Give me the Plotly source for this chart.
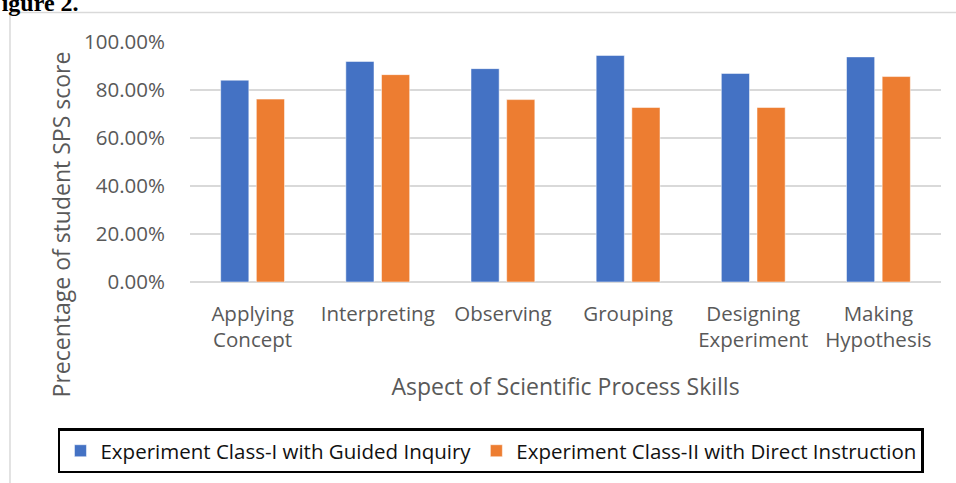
import plotly.graph_objects as go

categories = ["Applying<br>Concept", "Interpreting", "Observing", "Grouping",
              "Designing<br>Experiment", "Making<br>Hypothesis"]
guided_inquiry = [0.841, 0.919, 0.889, 0.944, 0.869, 0.938]
direct_instruction = [0.762, 0.864, 0.760, 0.727, 0.727, 0.856]
y_ticks = [0, 0.2, 0.4, 0.6, 0.8, 1.0]
y_tick_labels = ["0.00%", "20.00%", "40.00%", "60.00%", "80.00%", "100.00%"]

FONT = "Open Sans"
GRAY = "#595959"

fig = go.Figure()
fig.add_trace(go.Bar(
    x=categories, y=guided_inquiry, name="Experiment Class-I with Guided Inquiry",
    marker=dict(color="#4472C4", line=dict(color="rgba(255,255,255,0.5)", width=1)),
    width=0.225, offset=-0.255,
))
fig.add_trace(go.Bar(
    x=categories, y=direct_instruction, name="Experiment Class-II with Direct Instruction",
    marker=dict(color="#ED7D31", line=dict(color="rgba(255,255,255,0.5)", width=1)),
    width=0.225, offset=0.03,
))

fig.update_layout(
    width=956, height=483,
    margin=dict(l=190, r=15, t=42, b=201, autoexpand=False),
    paper_bgcolor="white", plot_bgcolor="white",
    font=dict(family=FONT, color=GRAY, size=20),
    barmode="group",
    showlegend=True,
    legend=dict(
        orientation="h", xref="paper", yref="paper",
        x=-0.1758, xanchor="left", y=-0.61, yanchor="top",
        bordercolor="black", borderwidth=2.5, bgcolor="white",
        font=dict(family=FONT, size=20.5, color="#111111"),
        itemwidth=30, traceorder="normal",
    ),
    xaxis=dict(
        showgrid=False, showline=False, ticks="", ticklabelstandoff=17,
        tickfont=dict(family=FONT, size=20.5, color=GRAY),
        title=dict(text="Aspect of Scientific Process Skills",
                   font=dict(family=FONT, size=23, color=GRAY), standoff=26),
    ),
    yaxis=dict(
        range=[0, 1.0], tickvals=y_ticks, ticktext=y_tick_labels,
        showgrid=True, gridcolor="#D9D9D9", gridwidth=1.5,
        zeroline=True, zerolinecolor="#D9D9D9", zerolinewidth=1.5,
        showline=False, ticks="", ticklabelstandoff=24,
        tickfont=dict(family=FONT, size=20.5, color=GRAY),
    ),
    shapes=[
        dict(type="line", xref="paper", yref="paper", x0=-0.2397, x1=-0.2397,
             y0=1.1234, y1=-0.84, line=dict(color="#D9D9D9", width=1.5)),
        dict(type="line", xref="paper", yref="paper", x0=-0.2397, x1=1.03,
             y0=1.1234, y1=1.1234, line=dict(color="#D9D9D9", width=1.5)),
    ],
    annotations=[
        dict(text="<b>Figure 2.</b>", xref="paper", yref="paper",
             x=-0.2726, xanchor="left", y=1.0985, yanchor="bottom",
             showarrow=False, font=dict(family="Liberation Serif", size=24, color="black")),
        dict(text="Precentage of student SPS score", xref="paper", yref="paper",
             x=-0.1718, xanchor="center", y=0.240, yanchor="middle", textangle=-90,
             showarrow=False, font=dict(family=FONT, size=23, color=GRAY)),
    ],
)

fig.write_html(
    "out.html",
    config={"displayModeBar": False},
    post_script="document.body.style.margin='0';document.body.style.overflow='hidden';",
)
